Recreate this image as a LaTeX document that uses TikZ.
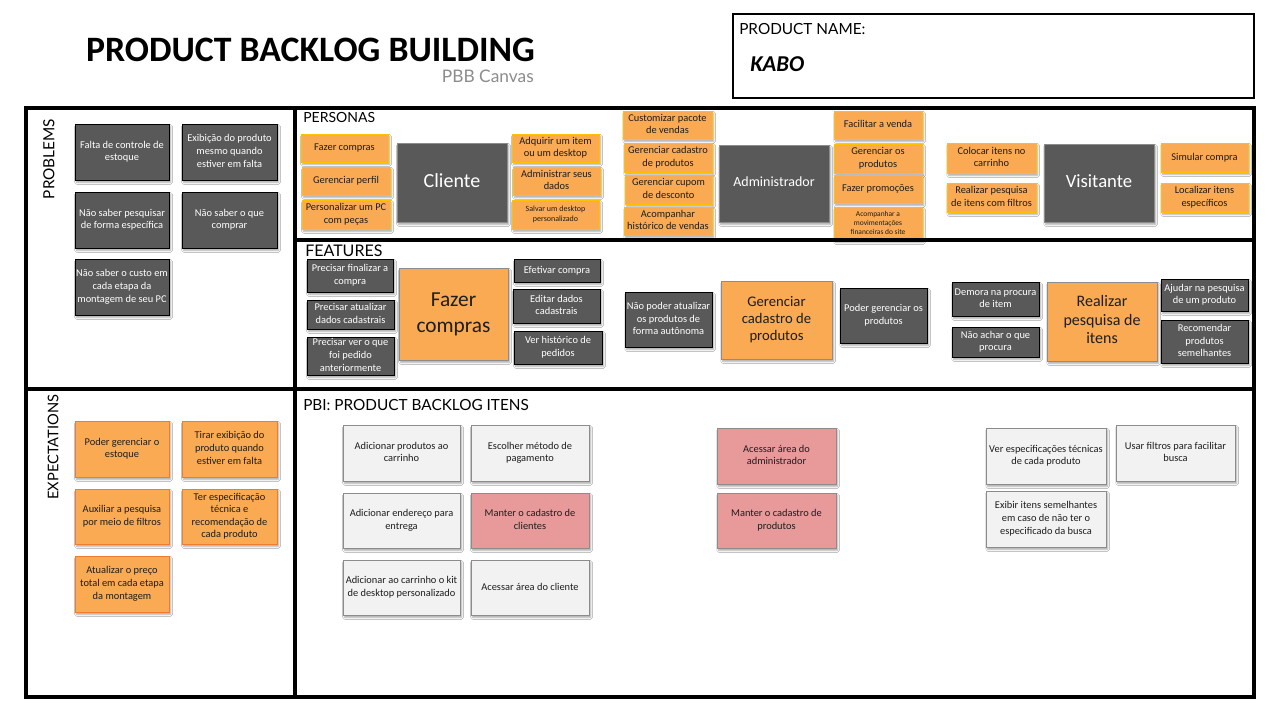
\documentclass[tikz,border=0pt]{standalone}
\usepackage{fontspec}
\setmainfont{Carlito}
\newfontfamily\hdfont{Lato}
\usetikzlibrary{shadows.blur}

\definecolor{boxdark}{HTML}{595959}
\definecolor{boxorange}{HTML}{F9AA53}
\definecolor{goldline}{HTML}{FFC000}
\definecolor{orangeline}{HTML}{ED7D31}
\definecolor{boxpink}{HTML}{E8999A}
\definecolor{boxlight}{HTML}{F2F2F2}
\definecolor{greyline}{HTML}{8C8C8C}
\definecolor{inkdark}{HTML}{1E1E1E}

\tikzset{
  card/.style={draw, line width=0.6pt, inner sep=0pt,
    font=\fontsize{7.8}{9.4}\selectfont,
    blur shadow={shadow xshift=1.2pt, shadow yshift=-1.8pt,
      shadow blur radius=1.4pt, shadow opacity=35}},
  darkcard/.style={card, fill=boxdark, draw=black, text=white},
  personacard/.style={card, fill=boxdark, draw=greyline, text=white},
  goldcard/.style={card, fill=boxorange, draw=goldline, text=inkdark},
  expcard/.style={card, fill=boxorange, draw=orangeline, text=inkdark},
  featcard/.style={card, fill=boxorange, draw=greyline, text=inkdark},
  lightcard/.style={card, fill=boxlight, draw=greyline, text=inkdark},
  pinkcard/.style={card, fill=boxpink, draw=greyline, text=inkdark},
  small/.style={font=\fontsize{6}{7.4}\selectfont},
  tiny/.style={font=\fontsize{5.6}{6.6}\selectfont},
  header/.style={font=\hdfont\fontsize{10.5}{12}\selectfont, inner sep=0pt},
  frame/.style={line width=2.4pt, line cap=rect}
}

% \boxcard{name}{style}{x1}{y1}{x2}{y2}{text}, coordinates in pixels;
% the text sits in a zero-width box so long lines stay centred on the card
\newcommand{\boxcard}[7]{%
  \pgfmathsetlengthmacro{\bcw}{(#5-#3)*0.75pt}%
  \pgfmathsetlengthmacro{\bch}{(#6-#4)*0.75pt}%
  \node[#2, minimum width=\bcw, minimum height=\bch]
    (#1) at ({(#3+#5)/2},{(#4+#6)/2})
    {\makebox[0pt]{\begin{tabular}{@{}c@{}}#7\end{tabular}}};}

\begin{document}
\begin{tikzpicture}[x=0.75pt, y=-0.75pt]
\useasboundingbox (0,0) rectangle (1280,720);
\fill[white] (0,0) rectangle (1280,720);

% title block
\node[anchor=base, inner sep=0pt, font=\bfseries\fontsize{26.8}{30}\selectfont] (title) at (310.5,62) {PRODUCT BACKLOG BUILDING};
\node[anchor=base east, inner sep=0pt, text=greyline, font=\hdfont\fontsize{13}{14}\selectfont] (subtitle) at (534,83) {PBB Canvas};

% product name
\draw[line width=2pt] (733,14) rectangle (1254,98);
\node[header, anchor=base west, font=\hdfont\fontsize{11.5}{13}\selectfont] (pname) at (739,35) {PRODUCT NAME:};
\node[anchor=base west, inner sep=0pt, font=\bfseries\itshape\fontsize{17}{20}\selectfont] (kabo) at (750,72) {KABO};

% section headers
\node[header, rotate=90, font=\hdfont\fontsize{11.5}{13}\selectfont] (hprob) at (49,159) {PROBLEMS};
\node[header, rotate=90, font=\hdfont\fontsize{11}{13}\selectfont] (hexp) at (53,447) {EXPECTATIONS};
\node[header, anchor=base west] (hpers) at (303,123) {PERSONAS};
\node[header, anchor=base west, font=\hdfont\fontsize{12}{13}\selectfont] (hfeat) at (305,257) {FEATURES};
\node[header, anchor=base west, font=\hdfont\fontsize{11.5}{13}\selectfont] (hpbi) at (303,410) {PBI: PRODUCT BACKLOG ITENS};

% problems
\boxcard{p1}{darkcard}{75}{124}{169}{180}{Falta de controle de\\estoque}
\boxcard{p2}{darkcard}{182}{124}{277}{180}{Exibição do produto\\mesmo quando\\estiver em falta}
\boxcard{p3}{darkcard}{75}{192}{169}{248}{Não saber pesquisar\\de forma específica}
\boxcard{p4}{darkcard}{182}{192}{277}{248}{Não saber o que\\comprar}
\boxcard{p5}{darkcard}{75}{259}{169}{315}{Não saber o custo em\\cada etapa da\\montagem de seu PC}

% expectations
\boxcard{e1}{expcard}{75}{421}{169}{477}{Poder gerenciar o\\estoque}
\boxcard{e2}{expcard}{182}{421}{277}{477}{Tirar exibição do\\produto quando\\estiver em falta}
\boxcard{e3}{expcard}{75}{489}{169}{544}{Auxiliar a pesquisa\\por meio de filtros}
\boxcard{e4}{expcard}{182}{489}{277}{544}{Ter especificação\\técnica e\\recomendação de\\cada produto}
\boxcard{e5}{expcard}{75}{556}{169}{612}{Atualizar o preço\\total em cada etapa\\da montagem}

% personas: cliente
\boxcard{c1}{goldcard}{301}{134}{388}{162}{Fazer compras}
\boxcard{c2}{goldcard}{302}{167}{390}{195}{Gerenciar perfil}
\boxcard{c3}{goldcard}{302}{200}{390}{229}{Personalizar um PC\\com peças}
\boxcard{cli}{personacard, font=\fontsize{15}{18}\selectfont}{397}{143}{507}{222}{Cliente}
\boxcard{c4}{goldcard}{512}{134}{599}{162}{Adquirir um item\\ou um desktop}
\boxcard{c5}{goldcard}{513}{167}{600}{195}{Administrar seus\\dados}
\boxcard{c6}{goldcard, small}{512}{200}{599}{229}{Salvar um desktop\\personalizado}

% personas: administrador
\boxcard{a1}{goldcard}{623}{111}{712}{139}{Customizar pacote\\de vendas}
\boxcard{a2}{goldcard}{624}{143}{712}{172}{Gerenciar cadastro\\de produtos}
\boxcard{a3}{goldcard}{625}{175}{712}{204}{Gerenciar cupom\\de desconto}
\boxcard{a4}{goldcard}{624}{207}{712}{235}{Acompanhar\\histórico de vendas}
\boxcard{adm}{personacard, font=\fontsize{10.5}{13}\selectfont}{719}{145}{829}{222}{Administrador}
\boxcard{a5}{goldcard}{834}{111}{922}{139}{Facilitar a venda}
\boxcard{a6}{goldcard}{834}{144}{922}{173}{Gerenciar os\\produtos}
\boxcard{a7}{goldcard}{834}{175}{922}{203}{Fazer promoções}
\boxcard{a8}{goldcard, tiny}{834}{207}{922}{240}{Acompanhar a\\movimentações\\financeiras do site}

% personas: visitante
\boxcard{v1}{goldcard}{947}{143}{1036}{173}{Colocar itens no\\carrinho}
\boxcard{v2}{goldcard}{947}{183}{1036}{212}{Realizar pesquisa\\de itens com filtros}
\boxcard{vis}{personacard, font=\fontsize{14}{17}\selectfont}{1044}{144}{1154}{222}{Visitante}
\boxcard{v3}{goldcard}{1161}{143}{1248}{172}{Simular compra}
\boxcard{v4}{goldcard}{1161}{183}{1248}{212}{Localizar itens\\específicos}

% features
\boxcard{f1}{darkcard}{307}{259}{393}{292}{Precisar finalizar a\\compra}
\boxcard{f2}{darkcard}{307}{300}{394}{329}{Precisar atualizar\\dados cadastrais}
\boxcard{f3}{darkcard}{307}{337}{394}{375}{Precisar ver o que\\foi pedido\\anteriormente}
\boxcard{fz}{featcard, font=\fontsize{16}{20}\selectfont}{399}{268}{508}{360}{Fazer\\compras}
\boxcard{f4}{darkcard}{514}{259}{600}{282}{Efetivar compra}
\boxcard{f5}{darkcard}{513}{289}{600}{323}{Editar dados\\cadastrais}
\boxcard{f6}{darkcard}{514}{331}{602}{364}{Ver histórico de\\pedidos}

\boxcard{g1}{darkcard}{625}{292}{712}{347}{Não poder atualizar\\os produtos de\\forma autônoma}
\boxcard{gc}{featcard, font=\fontsize{11}{13}\selectfont}{721}{281}{832}{359}{Gerenciar\\cadastro de\\produtos}
\boxcard{g2}{darkcard}{840}{288}{927}{343}{Poder gerenciar os\\produtos}

\boxcard{r1}{darkcard}{952}{282}{1039}{316}{Demora na procura\\de item}
\boxcard{r2}{darkcard}{952}{327}{1039}{357}{Não achar o que\\procura}
\boxcard{rp}{featcard, font=\fontsize{12}{14}\selectfont}{1047}{282}{1157}{361}{Realizar\\pesquisa de\\itens}
\boxcard{r3}{darkcard}{1161}{279}{1248}{311}{Ajudar na pesquisa\\de um produto}
\boxcard{r4}{darkcard}{1161}{320}{1248}{363}{Recomendar\\produtos\\semelhantes}

% product backlog items
\boxcard{b1}{lightcard}{343}{425}{460}{481}{Adicionar produtos ao\\carrinho}
\boxcard{b2}{lightcard}{471}{425}{589}{481}{Escolher método de\\pagamento}
\boxcard{b3}{lightcard}{343}{493}{460}{548}{Adicionar endereço para\\entrega}
\boxcard{b4}{pinkcard}{471}{493}{589}{548}{Manter o cadastro de\\clientes}
\boxcard{b5}{lightcard}{343}{560}{460}{615}{Adicionar ao carrinho o kit\\de desktop personalizado}
\boxcard{b6}{lightcard}{471}{560}{589}{615}{Acessar área do cliente}
\boxcard{b7}{pinkcard}{717}{428}{836}{484}{Acessar área do\\administrador}
\boxcard{b8}{pinkcard}{717}{493}{836}{548}{Manter o cadastro de\\produtos}
\boxcard{b9}{lightcard}{986}{428}{1106}{484}{Ver especificações técnicas\\de cada produto}
\boxcard{b10}{lightcard}{1116}{425}{1235}{481}{Usar filtros para facilitar\\busca}
\boxcard{b11}{lightcard}{986}{491}{1106}{547}{Exibir itens semelhantes\\em caso de não ter o\\especificado da busca}

% canvas frame
\draw[frame] (26,108) rectangle (1254,697);
\draw[frame] (295,108) -- (295,697);
\draw[frame] (26,389) -- (1254,389);
\draw[frame] (295,240) -- (1254,240);
\end{tikzpicture}
\end{document}
